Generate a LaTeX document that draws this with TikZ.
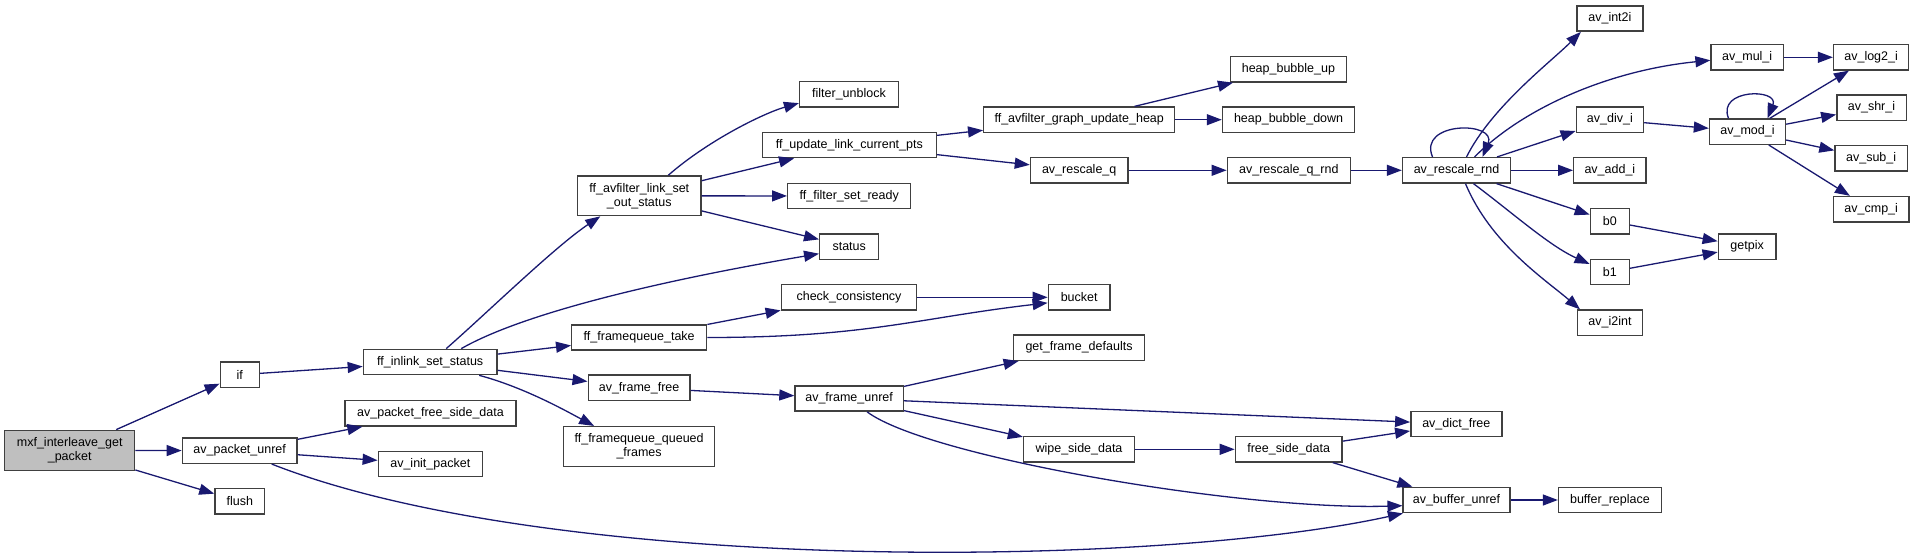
\documentclass[tikz,border=0pt]{standalone}
\usepackage{fontspec}
\setmainfont{Liberation Sans}
\usetikzlibrary{arrows.meta}
\definecolor{edgeblue}{HTML}{191970}
\definecolor{rootgray}{HTML}{BFBFBF}

\begin{document}
\begin{tikzpicture}[x=1pt,y=-1pt,>={Triangle[length=15pt,width=11pt]},
  func/.style={draw=black!75,line width=1.4pt,fill=white,inner xsep=2pt,inner ysep=0pt,
    minimum height=25.3pt,font=\fontsize{12.5}{14}\selectfont,align=center},
  root/.style={func,fill=rootgray,minimum height=40pt},
  twoline/.style={func,minimum height=39.7pt},
  call/.style={color=edgeblue,line width=1.3pt,->}]

\useasboundingbox (0,0) rectangle (1915,556);

% callers, left to right
\node[root,minimum width=130pt] (mxf) at (69.7,450.3) {mxf\_interleave\_get\\\_packet};
\node[func,minimum width=39pt] (if) at (239.8,374.7) {if};
\node[func,minimum width=114.7pt] (pktunref) at (239.7,450.7) {av\_packet\_unref};
\node[func,minimum width=49.7pt] (flush) at (239.8,501.3) {flush};
\node[func,minimum width=133.7pt] (inlink) at (430.2,362) {ff\_inlink\_set\_status};
\node[func,minimum width=171pt] (pktfree) at (430.5,413.3) {av\_packet\_free\_side\_data};
\node[func,minimum width=104pt] (initpkt) at (430.3,464) {av\_init\_packet};
\node[twoline,minimum width=123.3pt] (setout) at (639.3,195.8) {ff\_avfilter\_link\_set\\\_out\_status};
\node[func,minimum width=135pt] (fqtake) at (639.2,337.5) {ff\_framequeue\_take};
\node[func,minimum width=101.8pt] (framefree) at (639.1,387.8) {av\_frame\_free};
\node[twoline,minimum width=151pt] (fqqueued) at (639.1,446.5) {ff\_framequeue\_queued\\\_frames};
\node[func,minimum width=98.8pt] (unblock) at (849,94.3) {filter\_unblock};
\node[func,minimum width=174pt] (updpts) at (849.3,145) {ff\_update\_link\_current\_pts};
\node[func,minimum width=123pt] (setready) at (849.2,196) {ff\_filter\_set\_ready};
\node[func,minimum width=59pt] (status) at (849.2,246.7) {status};
\node[func,minimum width=135.4pt] (checkcons) at (849,297.3) {check\_consistency};
\node[func,minimum width=108.2pt] (frameunref) at (849.1,398.5) {av\_frame\_unref};
\node[func,minimum width=191pt] (updheap) at (1079.2,119.7) {ff\_avfilter\_graph\_update\_heap};
\node[func,minimum width=97.5pt] (rescaleq) at (1079.2,170.3) {av\_rescale\_q};
\node[func,minimum width=61.7pt] (bucket) at (1079.2,297.3) {bucket};
\node[func,minimum width=131.2pt] (getdef) at (1079,347.7) {get\_frame\_defaults};
\node[func,minimum width=111pt] (wipe) at (1079,449.3) {wipe\_side\_data};
\node[func,minimum width=116.3pt] (bubup) at (1288.4,69.3) {heap\_bubble\_up};
\node[func,minimum width=132.3pt] (bubdown) at (1288.6,119.7) {heap\_bubble\_down};
\node[func,minimum width=123pt] (rescaleqrnd) at (1288.8,170.3) {av\_rescale\_q\_rnd};
\node[func,minimum width=106.7pt] (freeside) at (1288.7,449.3) {free\_side\_data};
\node[func,minimum width=108pt] (rescalernd) at (1456.5,170.3) {av\_rescale\_rnd};
\node[func,minimum width=91pt] (dictfree) at (1456.3,424) {av\_dict\_free};
\node[func,minimum width=106.7pt] (bufunref) at (1456.5,500) {av\_buffer\_unref};
\node[func,minimum width=102.7pt] (bufrepl) at (1609.9,500) {buffer\_replace};
\node[func,minimum width=65.8pt] (int2i) at (1609.9,18.5) {av\_int2i};
\node[func,minimum width=67.2pt] (divi) at (1609.9,119.7) {av\_div\_i};
\node[func,minimum width=72.3pt] (addi) at (1609.9,170.3) {av\_add\_i};
\node[func,minimum width=39pt] (b0) at (1609.8,221.3) {b0};
\node[func,minimum width=39pt] (b1) at (1609.8,272) {b1};
\node[func,minimum width=65.4pt] (i2int) at (1610,322.7) {av\_i2int};
\node[func,minimum width=72.2pt] (muli) at (1747.2,57.3) {av\_mul\_i};
\node[func,minimum width=76pt] (modi) at (1747.5,131.7) {av\_mod\_i};
\node[func,minimum width=57.6pt] (getpix) at (1747.1,246.7) {getpix};
\node[func,minimum width=75pt] (log2i) at (1871.1,57.3) {av\_log2\_i};
\node[func,minimum width=69.4pt] (shri) at (1871.5,107.7) {av\_shr\_i};
\node[func,minimum width=72.2pt] (subi) at (1871.1,158.3) {av\_sub\_i};
\node[func,minimum width=75.7pt] (cmpi) at (1871.2,209.2) {av\_cmp\_i};

% straight calls
\foreach \a/\b in {mxf/if,mxf/pktunref,mxf/flush,if/inlink,inlink/fqtake,inlink/framefree,
  pktunref/pktfree,pktunref/initpkt,setout/updpts,setout/setready,setout/status,
  fqtake/checkcons,checkcons/bucket,framefree/frameunref,updpts/updheap,updpts/rescaleq,
  updheap/bubup,updheap/bubdown,rescaleq/rescaleqrnd,rescaleqrnd/rescalernd,
  frameunref/getdef,frameunref/dictfree,frameunref/wipe,wipe/freeside,freeside/dictfree,
  freeside/bufunref,bufunref/bufrepl,rescalernd/divi,rescalernd/addi,rescalernd/b0,
  b0/getpix,b1/getpix,muli/log2i,divi/modi,modi/log2i,modi/shri,modi/subi,modi/cmpi}
  \draw[call] (\a) -- (\b);

% curved calls
\draw[call] ([xshift=16pt]inlink.north) .. controls +(40,-35) and +(-45,30) .. ([xshift=-39pt]setout.south);
\draw[call] ([xshift=31pt]inlink.north) .. controls +(70,-40) and +(-130,22) .. ([yshift=-7pt]status.west);
\draw[call] ([xshift=49pt]inlink.south) .. controls +(45,12) and +(-28,-15) .. ([xshift=-45pt]fqqueued.north);
\draw[call] ([xshift=29pt]setout.north) .. controls +(40,-35) and +(-35,10) .. (unblock.190);
\draw[call] (fqtake.east) .. controls +(160,0) and +(-130,15) .. (bucket.190);
\draw[call] ([xshift=18pt]frameunref.south) .. controls +(60,45) and +(-160,5) .. (bufunref.186);
\draw[call] ([xshift=32pt]pktunref.south) .. controls +(280,110) and +(-250,55) .. (bufunref.194);
\draw[call] ([xshift=10pt]rescalernd.north) .. controls +(25,-50) and +(-30,30) .. ([xshift=-29pt]int2i.south);
\draw[call] ([xshift=18pt]rescalernd.north) .. controls +(50,-50) and +(-100,10) .. ([yshift=-3pt]muli.west);
\draw[call] ([xshift=17pt]rescalernd.south) .. controls +(40,30) and +(-40,-18) .. ([yshift=8pt]b1.west);
\draw[call] ([xshift=9pt]rescalernd.south) .. controls +(25,60) and +(-35,-30) .. ([xshift=-30pt]i2int.north);

% recursive calls
\draw[call] ([xshift=-24pt]rescalernd.north) .. controls +(-15,-36) and +(15,-36) .. ([xshift=26pt]rescalernd.north);
\draw[call] ([xshift=-19pt]modi.north) .. controls +(-12,-30) and +(12,-30) .. ([xshift=20pt]modi.north);
\end{tikzpicture}
\end{document}
